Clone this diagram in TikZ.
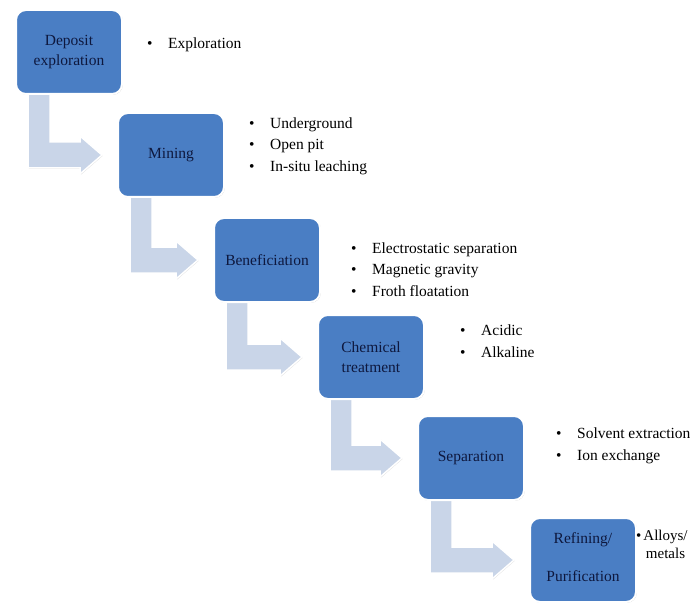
\documentclass[tikz,border=0pt]{standalone}
\usepackage{fontspec}
\setmainfont{Liberation Serif}
\usetikzlibrary{calc,shadows}
\definecolor{stepblue}{RGB}{74,126,196}
\definecolor{stepnavy}{RGB}{14,24,62}
\definecolor{bendfill}{RGB}{201,213,232}
\pgfdeclarelayer{back}
\pgfsetlayers{back,main}
\newcommand{\itm}[1]{\makebox[21pt][l]{\textbullet}#1}
\newcommand{\bend}[2]{%
	\begin{pgfonlayer}{back}
	\filldraw[bendarrow] let \p1=(#1.south west),\p2=(#2.west) in
	(\x1+13pt,\y1+4pt)--(\x1+13pt,\y2-13pt)--(\x2-37pt,\y2-13pt)--(\x2-37pt,\y2-19pt)--(\x2-15pt,\y2)
	--(\x2-37pt,\y2+19pt)--(\x2-37pt,\y2+13pt)--(\x1+35pt,\y2+13pt)--(\x1+35pt,\y1+4pt)--cycle;
	\end{pgfonlayer}}
\begin{document}
\begin{tikzpicture}[x=1pt,y=-1pt,
	stepbox/.style={draw=white,line width=2pt,fill=stepblue,rounded corners=10pt,minimum width=106pt,minimum height=84pt,
		align=center,text=stepnavy,font=\fontsize{15.5}{20}\selectfont,
		drop shadow={shadow xshift=0.8pt,shadow yshift=-0.8pt,opacity=0.35,fill=black!60}},
	bendarrow/.style={draw=white,line width=1.5pt,fill=bendfill,line join=miter,
		drop shadow={shadow xshift=0.8pt,shadow yshift=-0.8pt,opacity=0.25,fill=black!50}},
	itemlist/.style={anchor=west,align=left,inner sep=0pt,font=\fontsize{15.5}{21.5}\selectfont}]
		\useasboundingbox (0,0) rectangle (694,607);
		\node[stepbox] (dep) at (69,52) {Deposit\\exploration};
		\node[stepbox] (min) at (171,155) {Mining};
		\node[stepbox] (ben) at (267,260) {Beneficiation};
		\node[stepbox] (chem) at (371,357) {Chemical\\treatment};
		\node[stepbox] (sep) at (471,458) {Separation};
		\node[stepbox] (ref) at (583,560) {Refining/\\[18pt]Purification\\[-14pt]};
		\bend{dep}{min}
		\bend{min}{ben}
		\bend{ben}{chem}
		\bend{chem}{sep}
		\bend{sep}{ref}
		\node[itemlist] (expl) at (147,45) {\itm{Exploration}};
		\node[itemlist] (minl) at (249,146) {\itm{Underground}\\\itm{Open pit}\\\itm{In-situ leaching}};
		\node[itemlist] (benl) at (351,269.5) {\itm{Electrostatic separation}\\\itm{Magnetic gravity}\\\itm{Froth floatation}};
		\node[itemlist] (cheml) at (460,341) {\itm{Acidic}\\\itm{Alkaline}};
		\node[itemlist] (sepl) at (556,446) {\itm{Solvent extraction}\\\itm{Ion exchange}};
		\node[itemlist,anchor=base west,font=\fontsize{15}{18}\selectfont] (refl) at (636,540)
			{\textbullet\hspace{2pt}\begin{tabular}[t]{@{}c@{}}Alloys/\\metals\end{tabular}};
\end{tikzpicture}
\end{document}
